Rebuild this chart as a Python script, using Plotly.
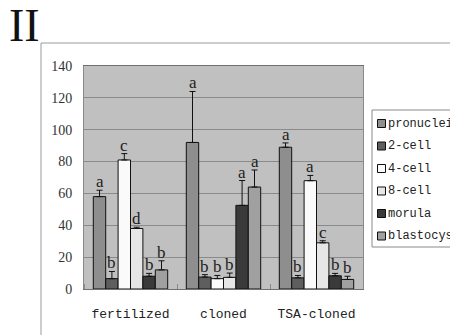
import plotly.graph_objects as go

groups = ["fertilized", "cloned", "TSA-cloned"]
stages = ["pronuclei", "2-cell", "4-cell", "8-cell", "morula", "blastocyst"]
colors = ["#8e8e8e", "#5e5e5e", "#fafafa", "#e6e6e6", "#3a3a3a", "#a0a0a0"]

pronuclei = [58, 92, 89]
cell2 = [6.5, 7.5, 7]
cell4 = [81, 6.5, 68]
cell8 = [38, 7.3, 29]
morula = [8, 52.5, 8.3]
blastocyst = [12, 64, 6]

pronuclei_err = [4, 32, 2.7]
cell2_err = [4.5, 1.5, 1.5]
cell4_err = [4, 2, 3.3]
cell8_err = [0.8, 2.7, 1.3]
morula_err = [1.8, 15.6, 1.5]
blastocyst_err = [5.7, 10.7, 2]

pronuclei_sig = ["a", "a", "a"]
cell2_sig = ["b", "b", "b"]
cell4_sig = ["c", "b", "a"]
cell8_sig = ["d", "b", "c"]
morula_sig = ["b", "a", "b"]
blastocyst_sig = ["b", "a", "b"]

values = [pronuclei, cell2, cell4, cell8, morula, blastocyst]
errors = [pronuclei_err, cell2_err, cell4_err, cell8_err, morula_err, blastocyst_err]
sigs = [pronuclei_sig, cell2_sig, cell4_sig, cell8_sig, morula_sig, blastocyst_sig]

# pixel geometry of the plot area (page pixels); page body has an 8px margin
W, H = 458, 335
OFF = 8
L, R, T, B = 84, 363, 66, 289
def xp(px):
    return (px - L) / (R - L)
def yp(py):
    return (B - py) / (B - T)

bargap = 0.2
n = len(stages)
bw = (1 - bargap) / n
xs = list(range(len(groups)))

fig = go.Figure()
annotations = []
for j, (name, vals, errs, sg, col) in enumerate(zip(stages, values, errors, sigs, colors)):
    fig.add_trace(go.Bar(
        x=xs, y=vals, name=name,
        marker=dict(color=col, line=dict(color="#111111", width=1)),
        error_y=dict(type="data", array=errs, arrayminus=[0] * len(errs), symmetric=False,
                     color="#111111", thickness=1, width=3),
        showlegend=False,
    ))
    for i in xs:
        annotations.append(dict(
            x=i + (j - (n - 1) / 2) * bw, y=vals[i] + errs[i], xref="x", yref="y",
            text=sg[i], showarrow=False, yanchor="bottom", yshift=-3,
            font=dict(family="Liberation Serif", size=17, color="#222222"),
        ))

# manual legend
shapes = []
leg_top = 123.5
leg_step = 22.5
shapes.append(dict(type="rect", xref="paper", yref="paper",
                   x0=xp(372), x1=xp(475), y0=yp(110), y1=yp(247),
                   line=dict(color="#8a8a8a", width=1), fillcolor="white", layer="below"))
for j, (name, col) in enumerate(zip(stages, colors)):
    cy = leg_top + j * leg_step
    shapes.append(dict(type="rect", xref="paper", yref="paper",
                       x0=xp(377.5), x1=xp(385.5), y0=yp(cy - 4), y1=yp(cy + 4),
                       line=dict(color="#111111", width=1), fillcolor=col))
    annotations.append(dict(x=xp(386), y=yp(cy), xref="paper", yref="paper",
                            text=name, showarrow=False, xanchor="left", yanchor="middle",
                            font=dict(family="Liberation Mono", size=12, color="#222222")))

# page decorations
shapes.append(dict(type="rect", xref="paper", yref="paper",
                   x0=xp(41), x1=xp(480), y0=yp(43), y1=yp(360),
                   line=dict(color="#9a9a9a", width=1), fillcolor="rgba(0,0,0,0)", layer="below"))
annotations.append(dict(x=xp(24), y=yp(44), xref="paper", yref="paper", text="II",
                        showarrow=False, xanchor="center", yanchor="bottom", yshift=-9,
                        font=dict(family="Liberation Serif", size=46, color="#111111")))

fig.update_layout(
    width=W, height=H,
    margin=dict(l=L - OFF, r=W - R + OFF, t=T - OFF, b=H - B + OFF, autoexpand=False),
    paper_bgcolor="white", plot_bgcolor="#c0c0c0",
    barmode="group", bargap=bargap, bargroupgap=0,
    shapes=shapes, annotations=annotations,
    xaxis=dict(range=[-0.5, len(groups) - 0.5], tickvals=xs, ticktext=groups,
               ticks="", showgrid=False, zeroline=False,
               showline=True, linecolor="#707070", linewidth=1, mirror=True,
               ticklabelstandoff=12,
               tickfont=dict(family="Liberation Mono", size=13, color="#222222"),
               minor=dict(tickvals=[k - 0.5 for k in range(len(groups) + 1)],
                          ticks="inside", ticklen=5, tickcolor="#8a8a8a", showgrid=False)),
    yaxis=dict(range=[0, 140], dtick=20, showgrid=True, gridcolor="#8a8a8a", gridwidth=1,
               zeroline=False, showline=True, linecolor="#8a8a8a", mirror=True,
               ticks="", ticklabelstandoff=8,
               tickfont=dict(family="Liberation Serif", size=14, color="#333333")),
)

fig.write_html("out.html")
